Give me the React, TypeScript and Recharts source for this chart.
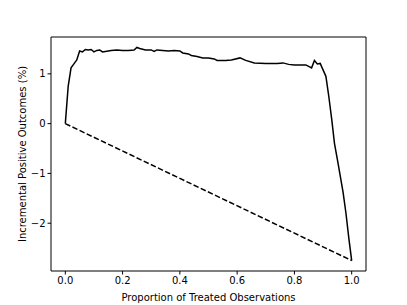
import React from "react";
import { LineChart, Line, XAxis, YAxis, ReferenceLine } from "recharts";

// proportion of treated observations (x) and incremental positive outcomes in % (y)
const proportions = [
  0.0, 0.01, 0.02, 0.03, 0.04, 0.05, 0.06, 0.07, 0.08, 0.09, 0.1, 0.11, 0.12, 0.13,
  0.14, 0.16, 0.18, 0.2, 0.22, 0.24, 0.25, 0.26, 0.28, 0.3, 0.31, 0.32, 0.34, 0.36,
  0.38, 0.4, 0.41, 0.43, 0.44, 0.46, 0.48, 0.5, 0.52, 0.53, 0.56, 0.58, 0.61, 0.63,
  0.66, 0.7, 0.74, 0.76, 0.78, 0.8, 0.84, 0.86, 0.87, 0.88, 0.89, 0.9, 0.91, 0.92,
  0.93, 0.94, 0.95, 0.96, 0.97, 0.98, 0.99, 1.0,
];
const outcomes = [
  0, 0.75, 1.12, 1.2, 1.28, 1.46, 1.44, 1.49, 1.48, 1.49, 1.44, 1.47, 1.48, 1.44,
  1.45, 1.47, 1.48, 1.47, 1.47, 1.48, 1.53, 1.51, 1.48, 1.48, 1.45, 1.48, 1.47, 1.46,
  1.47, 1.46, 1.42, 1.4, 1.37, 1.35, 1.32, 1.32, 1.3, 1.27, 1.27, 1.28, 1.32, 1.27,
  1.22, 1.21, 1.21, 1.22, 1.19, 1.18, 1.18, 1.12, 1.27, 1.2, 1.21, 1.08, 0.95, 0.55,
  0.1, -0.4, -0.72, -1.05, -1.38, -1.8, -2.3, -2.75,
];
// random-targeting baseline, straight from start to end
const baselineX = [0, 1];
const baselineY = [0, -2.75];

const xTicks = [0, 0.2, 0.4, 0.6, 0.8, 1.0];
const yTicks = [-2, -1, 0, 1];
const xDomain = [-0.05, 1.05];
const yDomain = [-2.96, 1.74];

const curve = proportions.map((x, i) => ({ x, y: outcomes[i] }));
const baseline = baselineX.map((x, i) => ({ x, y: baselineY[i] }));

const font = { fontFamily: "DejaVu Sans", fontSize: 10, fill: "#000" };
const minus = (v: number) => String(v).replace("-", "\u2212");

export default function App() {
  return (
    <div style={{ position: "absolute", left: 0, top: 0, background: "#fff" }}>
      <LineChart width={407} height={305} margin={{ top: 37, right: 41, bottom: 0, left: 0 }}>
        <XAxis
          type="number"
          dataKey="x"
          domain={xDomain}
          ticks={xTicks}
          tickFormatter={(v: number) => v.toFixed(1)}
          allowDataOverflow
          height={34}
          stroke="#000"
          tickSize={3.5}
          tick={font}
          label={{ value: "Proportion of Treated Observations", position: "insideBottom", offset: 4, style: font }}
        />
        <YAxis
          type="number"
          dataKey="y"
          domain={yDomain}
          ticks={yTicks}
          tickFormatter={minus}
          allowDataOverflow
          width={51}
          stroke="#000"
          tickSize={3.5}
          tick={font}
          label={{ value: "Incremental Positive Outcomes (%)", angle: -90, position: "center", dx: -3, style: font }}
        />
        {/* top and right spines */}
        <ReferenceLine y={yDomain[1]} stroke="#000" ifOverflow="visible" />
        <ReferenceLine x={xDomain[1]} stroke="#000" ifOverflow="visible" />
        <Line
          data={curve}
          dataKey="y"
          type="linear"
          stroke="#000"
          strokeWidth={1.5}
          dot={false}
          isAnimationActive={false}
        />
        <Line
          data={baseline}
          dataKey="y"
          type="linear"
          stroke="#000"
          strokeWidth={1.5}
          strokeDasharray="5.5 2.4"
          dot={false}
          isAnimationActive={false}
        />
      </LineChart>
    </div>
  );
}
